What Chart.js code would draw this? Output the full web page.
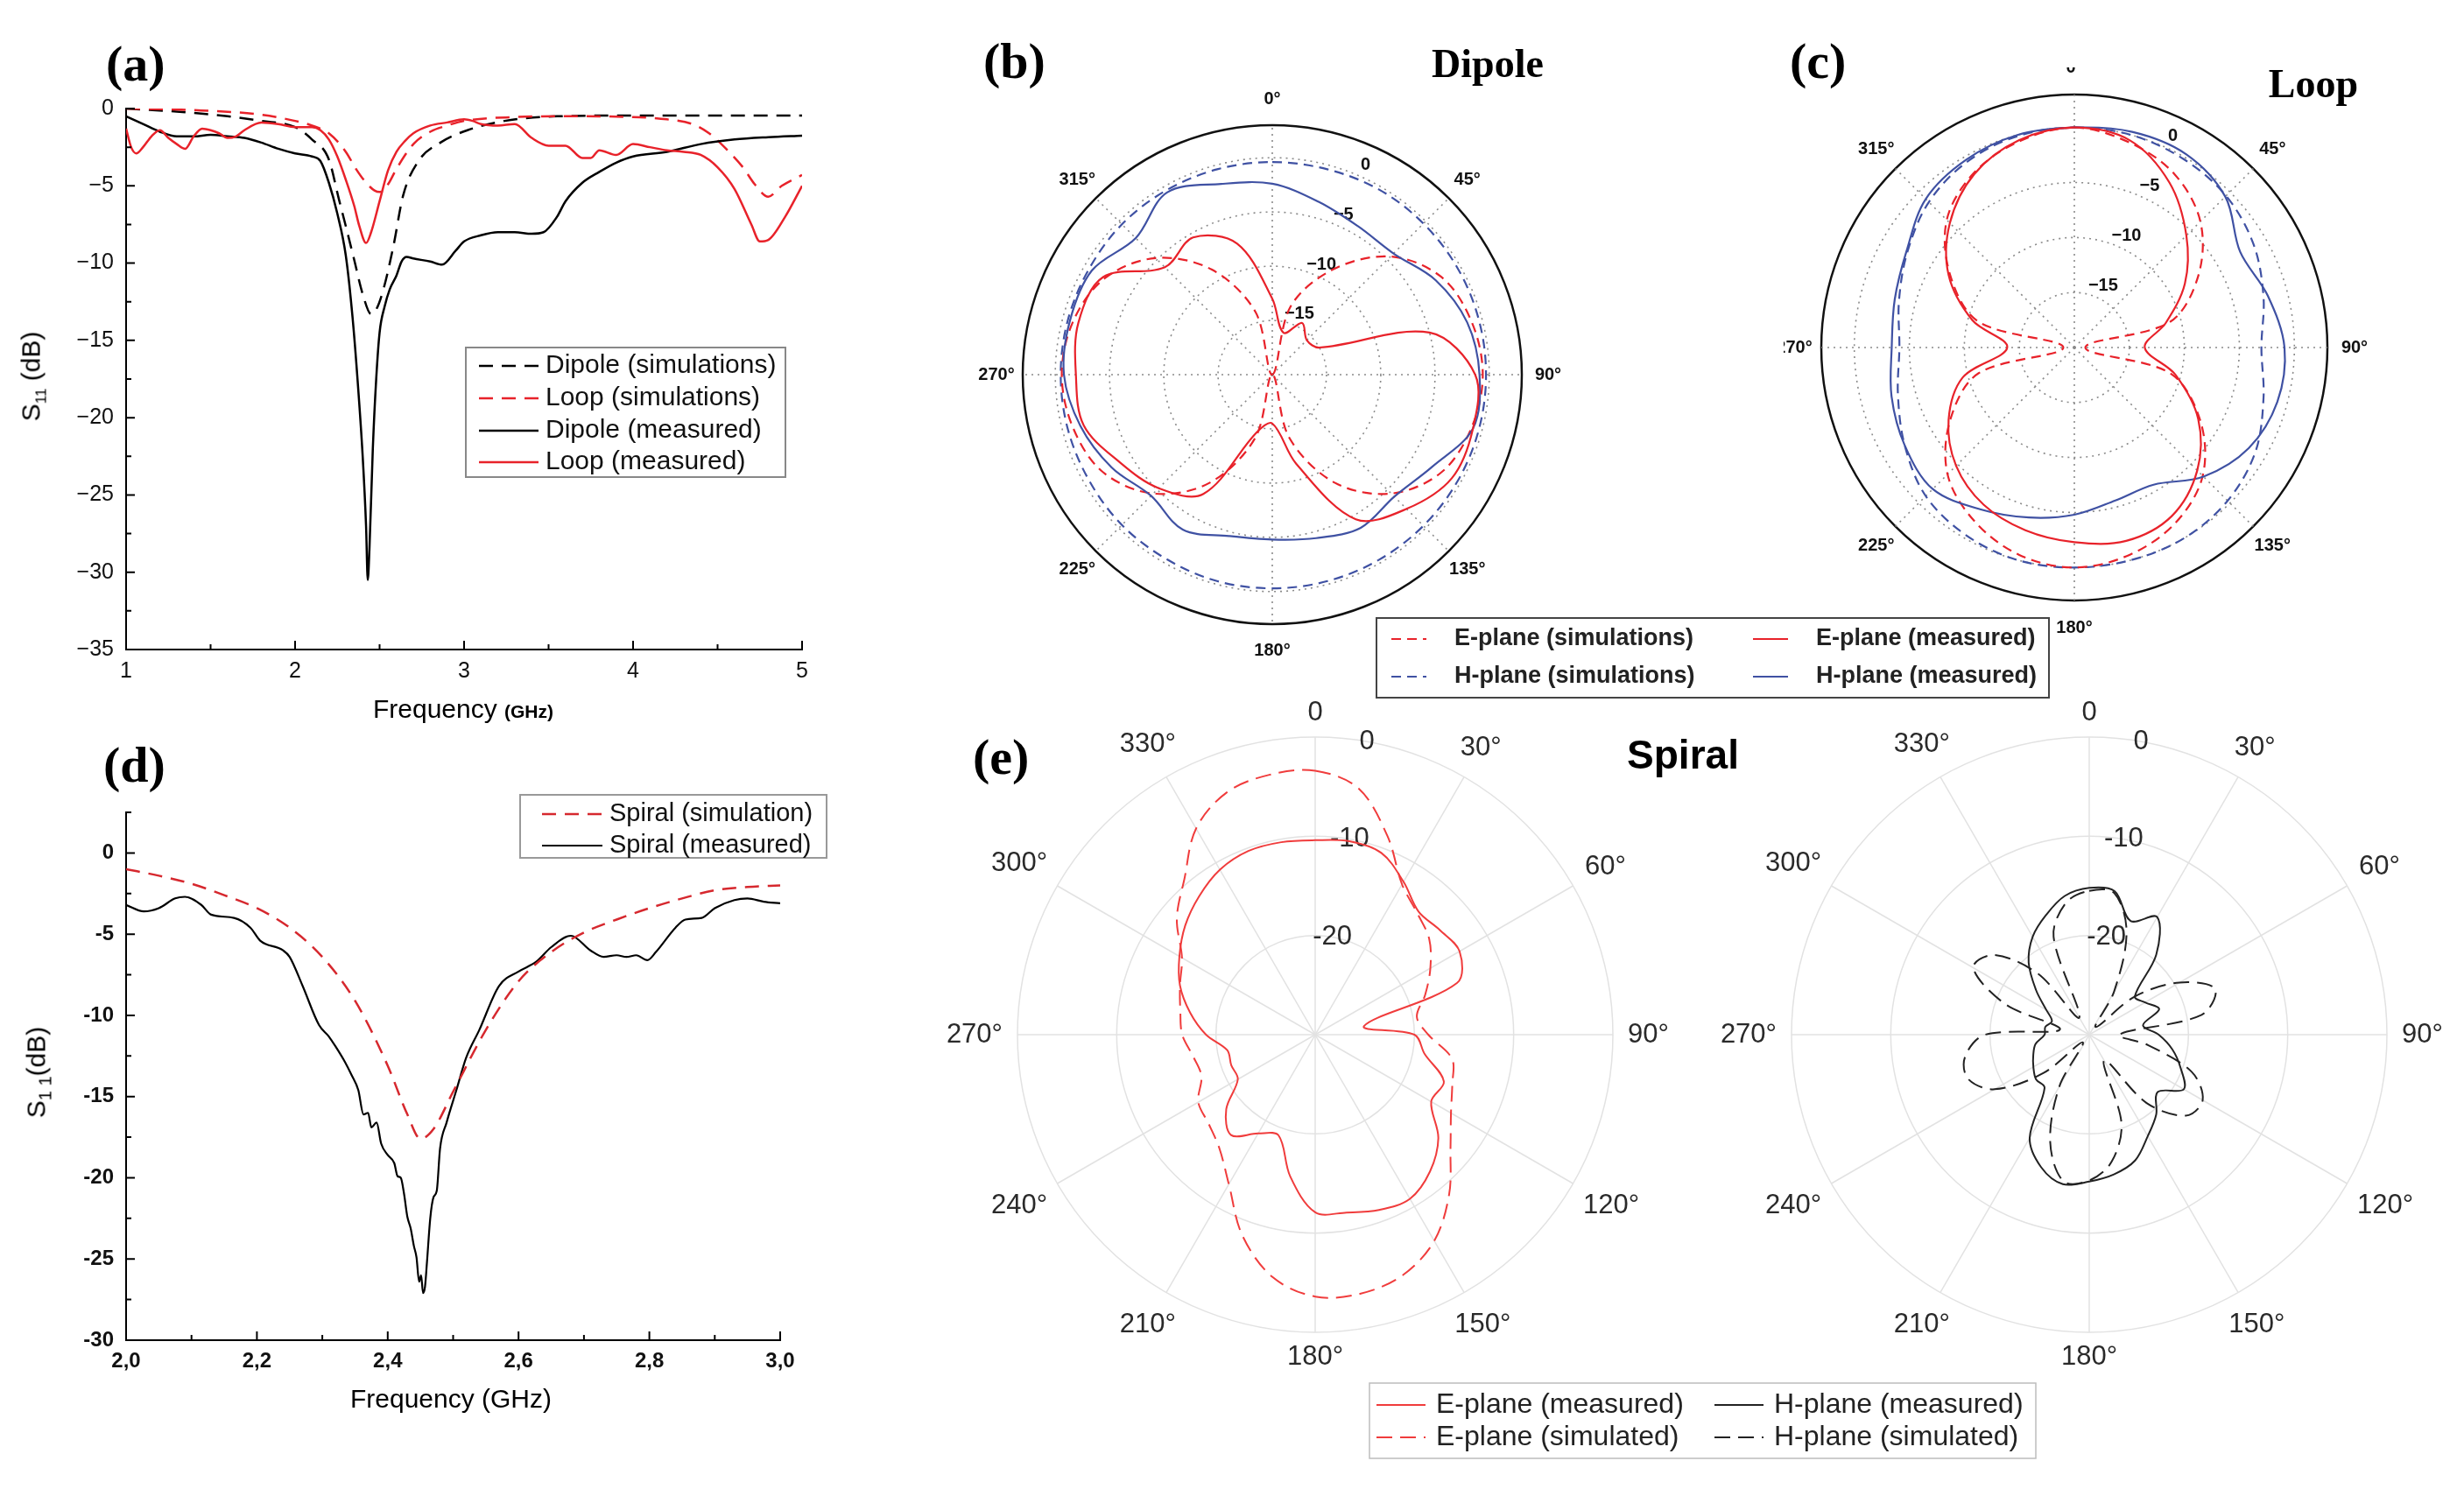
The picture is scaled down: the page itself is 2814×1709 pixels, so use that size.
<!DOCTYPE html>
<html>
<head>
<meta charset="utf-8">
<script src="https://cdn.jsdelivr.net/npm/chart.js@4.4.1/dist/chart.umd.min.js"></script>
<style>
  html, body { margin: 0; padding: 0; background: #fff; }
  #page { position: relative; width: 2814px; height: 1709px; overflow: hidden; background: #fff; }
  .box { position: absolute; }
  .t { position: absolute; line-height: 1; white-space: nowrap; color: #000; z-index: 10; }
  .serif { font-family: 'Liberation Serif', 'Times New Roman', serif; font-weight: bold; }
  .sans { font-family: 'Liberation Sans', Arial, sans-serif; }
</style>
</head>
<body>
<div id="page">
  <div class="box" style="left:0;top:0;width:960px;height:850px;z-index:1"><canvas id="chartA"></canvas></div>
  <div class="box" style="left:0;top:850px;width:960px;height:859px;z-index:1"><canvas id="chartD"></canvas></div>
  <div class="box" style="left:2037px;top:77px;width:777px;height:663px;z-index:2"><canvas id="chartC"></canvas></div>
  <div class="box" style="left:1100px;top:0;width:1260px;height:810px;z-index:3"><canvas id="chartB"></canvas></div>
  <div class="box" style="left:1960px;top:780px;width:854px;height:800px;z-index:2"><canvas id="chartE2"></canvas></div>
  <div class="box" style="left:1060px;top:780px;width:1300px;height:900px;z-index:3"><canvas id="chartE1"></canvas></div>

  <div class="t serif" style="left:121px;top:73px;font-size:58px;transform:translateY(-50%)">(a)</div>
  <div class="t serif" style="left:1123px;top:70px;font-size:58px;transform:translateY(-50%)">(b)</div>
  <div class="t serif" style="left:2044px;top:70px;font-size:58px;transform:translateY(-50%)">(c)</div>
  <div class="t serif" style="left:118px;top:874px;font-size:58px;transform:translateY(-50%)">(d)</div>
  <div class="t serif" style="left:1111px;top:865px;font-size:58px;transform:translateY(-50%)">(e)</div>
  <div class="t serif" style="left:1699px;top:73px;font-size:46px;transform:translate(-50%,-50%)">Dipole</div>
  <div class="t serif" style="left:2642px;top:96px;font-size:46px;transform:translate(-50%,-50%)">Loop</div>
  <div class="t sans" style="left:1922px;top:862px;font-size:46px;font-weight:bold;transform:translate(-50%,-50%)">Spiral</div>
  <div class="t sans" style="left:529px;top:810px;font-size:30px;transform:translate(-50%,-50%)">Frequency <span style="font-size:21px;font-weight:bold">(GHz)</span></div>
  <div class="t sans" style="left:38px;top:430px;font-size:30px;transform:translate(-50%,-50%) rotate(-90deg)">S<sub style="font-size:17px">11</sub> (dB)</div>
  <div class="t sans" style="left:515px;top:1598px;font-size:30px;transform:translate(-50%,-50%)">Frequency (GHz)</div>
  <div class="t sans" style="left:44px;top:1225px;font-size:30px;transform:translate(-50%,-50%) rotate(-90deg)">S<sub style="font-size:20px">1 1</sub>(dB)</div>
</div>

<script>
// ---------- (a) S11, dipole and loop ----------
const aDipoleSimF = [1.0, 1.3, 1.6, 1.8, 2.0, 2.1, 2.2, 2.26, 2.3, 2.35, 2.4, 2.45, 2.48, 2.52, 2.58, 2.64, 2.73, 2.86, 3.02, 3.24, 3.55, 4.0, 4.5, 5.0];
const aDipoleSim  = [0, -0.2, -0.5, -0.8, -1.2, -2.0, -3.3, -5.9, -7.6, -9.8, -12.0, -13.3, -13.0, -11.8, -9.0, -5.6, -3.4, -2.2, -1.4, -0.8, -0.5, -0.45, -0.45, -0.45];

const aLoopSimF = [1.0, 1.4, 1.8, 2.0, 2.1, 2.2, 2.3, 2.36, 2.42, 2.47, 2.5, 2.55, 2.6, 2.7, 2.8, 2.9, 3.0, 3.3, 3.6, 4.0, 4.2, 4.35, 4.45, 4.55, 4.65, 4.72, 4.8, 4.88, 5.0];
const aLoopSim  = [0, -0.1, -0.4, -0.8, -1.1, -1.6, -2.8, -3.9, -4.8, -5.3, -5.4, -4.9, -3.9, -2.3, -1.5, -1.1, -0.8, -0.55, -0.5, -0.55, -0.7, -1.0, -1.6, -2.6, -3.8, -4.9, -5.7, -5.0, -4.3];

const aDipoleMeasF = [1.0, 1.1, 1.2, 1.3, 1.4, 1.5, 1.6, 1.7, 1.8, 1.9, 2.0, 2.1, 2.15, 2.2, 2.25, 2.3, 2.34, 2.37, 2.4, 2.42, 2.43, 2.44, 2.46, 2.48, 2.5, 2.53, 2.56, 2.6, 2.63, 2.66, 2.7, 2.8, 2.87, 2.95, 3.0, 3.1, 3.2, 3.3, 3.4, 3.47, 3.55, 3.6, 3.7, 3.8, 3.9, 4.0, 4.2, 4.4, 4.6, 4.8, 5.0];
const aDipoleMeas  = [-0.5, -1.0, -1.5, -1.8, -1.8, -1.7, -1.8, -1.9, -2.2, -2.6, -2.9, -3.1, -3.4, -4.8, -6.8, -9.5, -13.5, -17.6, -22.5, -27, -30.5, -28.5, -22, -17.5, -14.5, -12.8, -11.7, -10.8, -9.9, -9.6, -9.7, -9.9, -10.1, -9.2, -8.6, -8.2, -8.0, -8.0, -8.1, -8.0, -7.0, -6.0, -4.8, -4.1, -3.5, -3.1, -2.8, -2.3, -2.0, -1.85, -1.75];

const aLoopMeasF = [1.0, 1.03, 1.06, 1.1, 1.15, 1.2, 1.25, 1.3, 1.35, 1.4, 1.45, 1.5, 1.55, 1.6, 1.65, 1.7, 1.8, 1.9, 2.0, 2.1, 2.15, 2.2, 2.25, 2.3, 2.35, 2.38, 2.42, 2.45, 2.5, 2.55, 2.6, 2.65, 2.7, 2.8, 2.9, 3.0, 3.05, 3.1, 3.2, 3.3, 3.4, 3.5, 3.6, 3.7, 3.75, 3.8, 3.9, 4.0, 4.1, 4.2, 4.3, 4.4, 4.5, 4.6, 4.7, 4.75, 4.8, 4.9, 5.0];
const aLoopMeas  = [-1.3, -2.5, -2.9, -2.5, -1.8, -1.4, -1.9, -2.3, -2.6, -1.8, -1.3, -1.4, -1.6, -1.9, -1.8, -1.4, -0.9, -1.0, -1.2, -1.2, -1.4, -2.0, -3.1, -4.6, -6.3, -7.6, -8.7, -8.0, -6.0, -4.0, -2.8, -2.1, -1.6, -1.1, -0.9, -0.7, -0.8, -1.0, -1.1, -1.0, -1.9, -2.4, -2.4, -3.2, -3.2, -2.7, -3.0, -2.3, -2.5, -2.7, -2.8, -3.0, -3.8, -5.2, -7.5, -8.6, -8.5, -7.0, -5.0];

const aXMajor = [1, 2, 3, 4, 5];
const aXMinor = [1.5, 2.5, 3.5, 4.5];
const aYMajor = [-35, -30, -25, -20, -15, -10, -5, 0];
const aYMinor = [-32.5, -27.5, -22.5, -17.5, -12.5, -7.5, -2.5];

// ---------- (d) S11, spiral ----------
const dSimF = [2.0, 2.05, 2.1, 2.15, 2.2, 2.25, 2.3, 2.35, 2.4, 2.43, 2.45, 2.47, 2.5, 2.55, 2.6, 2.65, 2.7, 2.75, 2.8, 2.85, 2.9, 2.95, 3.0];
const dSim  = [-1.0, -1.4, -1.9, -2.6, -3.4, -4.6, -6.4, -9.1, -13.1, -16.1, -17.6, -17.0, -14.7, -10.9, -7.9, -6.1, -4.9, -4.1, -3.4, -2.8, -2.3, -2.1, -2.0];

const dMeasF = [2.0, 2.027, 2.05, 2.075, 2.09, 2.115, 2.13, 2.165, 2.19, 2.205, 2.24, 2.25, 2.27, 2.295, 2.31, 2.32, 2.335, 2.345, 2.355, 2.363, 2.37, 2.375, 2.383, 2.39, 2.4, 2.41, 2.415, 2.42, 2.425, 2.43, 2.435, 2.44, 2.444, 2.448, 2.451, 2.454, 2.457, 2.46, 2.465, 2.47, 2.475, 2.48, 2.49, 2.505, 2.52, 2.54, 2.57, 2.6, 2.627, 2.65, 2.68, 2.71, 2.73, 2.75, 2.765, 2.78, 2.797, 2.81, 2.84, 2.855, 2.88, 2.9, 2.93, 2.95, 2.975, 3.0];
const dMeas  = [-3.2, -3.6, -3.4, -2.8, -2.7, -3.2, -3.8, -4.0, -4.6, -5.4, -6.0, -6.4, -8.2, -10.6, -11.3, -11.9, -12.9, -13.7, -14.6, -16.1, -16.0, -16.9, -16.6, -17.9, -18.6, -19.1, -19.9, -20.0, -21.0, -22.4, -23.1, -24.2, -24.9, -26.4, -26.0, -27.1, -26.7, -25.2, -22.5, -21.2, -20.8, -18.2, -16.6, -14.6, -12.6, -10.9, -8.2, -7.3, -6.7, -5.8, -5.1, -6.0, -6.4, -6.3, -6.4, -6.3, -6.6, -6.1, -4.6, -4.1, -4.0, -3.4, -2.9, -2.8, -3.0, -3.1];

const dXMajor = [2.0, 2.2, 2.4, 2.6, 2.8, 3.0];
const dXMinor = [2.1, 2.3, 2.5, 2.7, 2.9];
const dYMajor = [-30, -25, -20, -15, -10, -5, 0];
const dYMinor = [-27.5, -22.5, -17.5, -12.5, -7.5, -2.5, 2.5];

// ---------- (b) dipole and (c) loop patterns, 15 deg steps ----------
const bcAngles = [0, 15, 30, 45, 60, 75, 90, 105, 120, 135, 150, 165, 180, 195, 210, 225, 240, 255, 270, 285, 300, 315, 330, 345];
const bEsim  = [-20, -13.5, -8.8, -4.6, -2.0, -1.0, -0.6, -1.0, -2.0, -4.5, -8.5, -14, -20, -14, -8.5, -4.5, -2.0, -1.0, -0.6, -1.0, -2.2, -4.8, -8.8, -14];
const bEmeas = [-13, -16, -14.5, -15.5, -15, -5.0, -1.3, -0.85, -0.9, -2.5, -4.6, -11.5, -15.5, -14.5, -7.3, -5.2, -3.8, -2.0, -1.9, -1.5, -2.0, -6.0, -5.4, -7.5];
const bHsim  = [-0.4, -0.4, -0.3, -0.3, -0.3, -0.3, -0.3, -0.3, -0.3, -0.3, -0.3, -0.3, -0.3, -0.3, -0.4, -0.4, -0.5, -0.5, -0.5, -0.5, -0.5, -0.4, -0.4, -0.4];
const bHmeas = [-2.4, -3.5, -4.2, -4.2, -2.6, -1.4, -0.9, -0.85, -3.0, -4.1, -3.7, -4.4, -4.8, -4.6, -3.5, -4.2, -2.9, -1.7, -0.8, -0.7, -0.8, -2.2, -0.6, -1.8];

const cEsim  = [0, -0.7, -1.8, -3.8, -7.0, -11, -19, -11, -6.8, -3.5, -1.6, -0.5, 0, -0.5, -1.8, -3.7, -7.0, -11, -19, -11, -7.0, -3.6, -1.7, -0.6];
const cEmeas = [0, -0.5, -2.7, -5.6, -8.4, -11.4, -13.6, -10.5, -7.0, -4.2, -2.3, -1.8, -2.3, -2.8, -3.5, -4.8, -6.8, -9.5, -13.9, -10.4, -6.8, -4.0, -1.8, -0.5];
const cHsim  = [0, 0, -0.2, -0.5, -1.2, -2.2, -3.0, -2.2, -1.0, -0.3, 0, 0, 0, 0, -0.3, -0.9, -2.2, -3.4, -4.1, -3.5, -2.5, -1.3, -0.5, -0.1];
const cHmeas = [0.0, 0.3, 0.3, -0.6, -2.6, -1.8, -0.9, -0.9, -1.7, -3.4, -5.6, -5.6, -4.8, -4.0, -3.0, -1.8, -2.2, -2.8, -3.4, -3.1, -2.4, -0.9, -0.3, 0.0];

const bcRings = [-20, -15, -10, -5, 0, 3];
const bcRingLabelVals = [0, -5, -10, -15];
const bcRingLabels = ['0', '\u22125', '\u221210', '\u221215'];
const bcAngleDeg = [0, 45, 90, 135, 180, 225, 270, 315];
const bcAngleText = ['0°', '45°', '90°', '135°', '180°', '225°', '270°', '315°'];

// ---------- (e) spiral patterns, 10 deg steps ----------
const eAngles = [0, 10, 20, 30, 40, 50, 60, 70, 80, 90, 100, 110, 120, 130, 140, 150, 160, 170, 180, 190, 200, 210, 220, 230, 240, 250, 260, 270, 280, 290, 300, 310, 320, 330, 340, 350];
const eEsim  = [-3.4, -4.8, -8.7, -12.5, -14.0, -15.0, -16.6, -18.2, -19.6, -18.6, -16.0, -15.3, -14.2, -12.2, -9.0, -6.0, -4.2, -3.5, -3.6, -5.2, -8.5, -12.6, -15.0, -16.0, -16.4, -17.8, -17.5, -16.6, -16.2, -15.5, -14.5, -11.8, -9.5, -6.0, -4.0, -3.4];
const eEmeas = [-10.4, -10.2, -10.5, -12.2, -13.8, -13.6, -13.2, -14.8, -25, -20.0, -18.8, -16.2, -16.5, -13.8, -12.0, -10.9, -11.2, -11.8, -12.1, -15.5, -19.2, -18.5, -16.8, -18.3, -21.0, -21.0, -21.0, -19.0, -17.2, -15.5, -14.2, -12.9, -11.8, -10.8, -10.3, -10.3];
const eHmeas = [-15.2, -15.3, -17.8, -16.3, -19.5, -24, -23.5, -22.5, -24.5, -23, -21.5, -20.2, -19.0, -21.0, -19.5, -18.2, -16.5, -15.7, -15.2, -14.7, -15.8, -18.0, -23.0, -23.0, -23.5, -24.0, -24.5, -25.5, -25.5, -26, -25, -23, -20.5, -18.6, -17.2, -15.8];
const eHsim  = [-15.5, -15.5, -19, -25, -29, -24, -19.5, -16.5, -18.5, -27, -24, -19, -16.8, -17.3, -21, -27, -20.5, -17, -15.3, -15, -18.5, -24, -29, -24, -19, -17, -17.3, -19.5, -27, -21, -16.5, -17.5, -22, -28, -19.5, -16.5];

const eRings = [-30, -20, -10, 0];
const eRingLabelVals = [0, -10, -20];
const eRingLabels = ['0', '-10', '-20'];
const eAngleDeg = [0, 30, 60, 90, 120, 150, 180, 210, 240, 270, 300, 330];
const eAngleText = ['0', '30°', '60°', '90°', '120°', '150°', '180°', '210°', '240°', '270°', '300°', '330°'];

// ---------- styles ----------
const RED = '#e8222a', BLUE = '#3f51a3', ERED = '#f03c3c';
const sty = {
  aDipSim:  { label: 'Dipole (simulations)', borderColor: '#000', borderWidth: 2.5, borderDash: [16, 10] },
  aLoopSim: { label: 'Loop (simulations)',   borderColor: RED,    borderWidth: 2.5, borderDash: [16, 10] },
  aDipMeas: { label: 'Dipole (measured)',    borderColor: '#000', borderWidth: 2.5, borderDash: [] },
  aLoopMeas:{ label: 'Loop (measured)',      borderColor: RED,    borderWidth: 2.5, borderDash: [] },
  dSim:     { label: 'Spiral (simulation)',  borderColor: '#d6282e', borderWidth: 2.5, borderDash: [16, 10] },
  dMeas:    { label: 'Spiral (measured)',    borderColor: '#000', borderWidth: 2.2, borderDash: [] },
  pEsim:    { label: 'E-plane (simulations)', borderColor: RED,  borderWidth: 2.2, borderDash: [11, 7] },
  pHsim:    { label: 'H-plane (simulations)', borderColor: BLUE, borderWidth: 2.2, borderDash: [11, 7] },
  pEmeas:   { label: 'E-plane (measured)',    borderColor: RED,  borderWidth: 2.2, borderDash: [] },
  pHmeas:   { label: 'H-plane (measured)',    borderColor: BLUE, borderWidth: 2.2, borderDash: [] },
  eEmeas:   { label: 'E-plane (measured)',  borderColor: ERED,   borderWidth: 2, borderDash: [] },
  eEsim:    { label: 'E-plane (simulated)', borderColor: ERED,   borderWidth: 2, borderDash: [18, 9] },
  eHmeas:   { label: 'H-plane (measured)',  borderColor: '#222', borderWidth: 2, borderDash: [] },
  eHsim:    { label: 'H-plane (simulated)', borderColor: '#222', borderWidth: 2, borderDash: [18, 9] }
};

Chart.defaults.font.family = "'Liberation Sans', Arial, sans-serif";
Chart.defaults.color = '#111';

const pts = (xs, ys) => xs.map((x, i) => ({ x, y: ys[i] }));
const lineDs = (s, xs, ys) => ({ ...s, data: pts(xs, ys), showLine: true, pointRadius: 0, fill: false, cubicInterpolationMode: 'monotone' });
const polarDs = (s, vals) => ({ ...s, data: vals, pointRadius: 0, fill: false, tension: 0.34, backgroundColor: 'transparent' });

// inward tick marks on the two axes
const inTicks = {
  id: 'inTicks',
  afterDraw(chart, args, o) {
    if (!o || !o.xMajor) return;
    const { ctx, chartArea: ca, scales } = chart;
    ctx.save();
    ctx.strokeStyle = '#000';
    ctx.lineWidth = 2;
    ctx.beginPath();
    const xt = (vals, len) => vals.forEach(v => { const p = scales.x.getPixelForValue(v); ctx.moveTo(p, ca.bottom); ctx.lineTo(p, ca.bottom - len); });
    const yt = (vals, len) => vals.forEach(v => { const p = scales.y.getPixelForValue(v); ctx.moveTo(ca.left, p); ctx.lineTo(ca.left + len, p); });
    xt(o.xMajor, o.major); xt(o.xMinor, o.minor);
    yt(o.yMajor, o.major); yt(o.yMinor, o.minor);
    ctx.stroke();
    ctx.restore();
  }
};

// framed legend drawn from the series styles
const boxLegend = {
  id: 'boxLegend',
  afterDraw(chart, args, o) {
    if (!o || !o.items) return;
    const ctx = chart.ctx;
    ctx.save();
    ctx.fillStyle = '#fff';
    ctx.fillRect(o.x, o.y, o.w, o.h);
    ctx.strokeStyle = o.border;
    ctx.lineWidth = o.borderWidth;
    ctx.strokeRect(o.x, o.y, o.w, o.h);
    ctx.font = o.font;
    ctx.textBaseline = 'middle';
    o.items.forEach(it => {
      ctx.save();
      ctx.strokeStyle = it.s.borderColor;
      ctx.lineWidth = it.s.borderWidth;
      ctx.setLineDash(it.s.borderDash);
      ctx.beginPath();
      ctx.moveTo(it.x, it.y);
      ctx.lineTo(it.x + o.sampleW, it.y);
      ctx.stroke();
      ctx.restore();
      ctx.fillStyle = o.color;
      ctx.fillText(it.s.label, it.x + o.sampleW + o.gap, it.y);
    });
    ctx.restore();
  }
};

// angle labels round the rim and level labels along one spoke
const polarText = {
  id: 'polarText',
  beforeDatasetsDraw(chart, args, o) {
    if (!o || !o.angleDeg) return;
    const s = chart.scales.r, ctx = chart.ctx;
    ctx.save();
    ctx.textAlign = 'center';
    ctx.textBaseline = 'middle';
    ctx.fillStyle = o.color;
    ctx.font = o.angleFont;
    o.angleDeg.forEach((deg, i) => {
      const t = o.angleText[i];
      const a = deg * Math.PI / 180;
      let r = o.angleR;
      if (o.fit) r += Math.abs(Math.sin(a)) * ctx.measureText(t).width / 2 + Math.abs(Math.cos(a)) * o.fit / 2;
      ctx.fillText(t, s.xCenter + Math.sin(a) * r, s.yCenter - Math.cos(a) * r);
    });
    ctx.font = o.ringFont;
    const a = o.ringDeg * Math.PI / 180;
    o.ringValues.forEach((v, i) => {
      const d = s.getDistanceFromCenterForValue(v) + o.ringShift;
      ctx.fillText(o.ringText[i], s.xCenter + Math.sin(a) * d, s.yCenter - Math.cos(a) * d);
    });
    ctx.restore();
  }
};

function lineOptions(p) {
  return {
    responsive: true, maintainAspectRatio: false, animation: false,
    layout: { padding: p.pad },
    plugins: { legend: { display: false }, tooltip: { enabled: false }, inTicks: p.ticks, boxLegend: p.legend },
    scales: {
      x: {
        type: 'linear', min: p.xMin, max: p.xMax,
        afterBuildTicks: s => { s.ticks = p.xMajor.map(v => ({ value: v })); },
        afterFit: s => { s.height = p.xH; },
        grid: { display: false, drawTicks: false },
        border: { color: '#000', width: 2 },
        ticks: { padding: 10, font: p.tickFont, color: '#111', callback: p.xFmt }
      },
      y: {
        min: p.yMin, max: p.yMax,
        afterBuildTicks: s => { s.ticks = p.yMajor.map(v => ({ value: v })); },
        afterFit: s => { s.width = 144; },
        grid: { display: false, drawTicks: false },
        border: { color: '#000', width: 2 },
        ticks: { padding: 14, font: p.tickFont, color: '#111', callback: p.yFmt }
      }
    }
  };
}

function polarOptions(p) {
  return {
    responsive: true, maintainAspectRatio: false, animation: false,
    layout: { padding: p.pad },
    plugins: { legend: { display: false }, tooltip: { enabled: false }, polarText: p.text, boxLegend: p.legend || {} },
    scales: {
      r: {
        min: p.min, max: p.max,
        afterBuildTicks: s => { s.ticks = p.rings.map(v => ({ value: v })); },
        ticks: { display: false },
        pointLabels: { display: false },
        grid: { circular: true, color: c => p.ringColor(c.tick.value), lineWidth: c => p.ringWidth(c.tick.value) },
        border: { dash: c => p.ringDash(c.tick.value) },
        angleLines: { color: p.spokeColor, lineWidth: c => (c.index % p.spokeEvery === 0 ? p.spokeWidth : 0), borderDash: p.spokeDash }
      }
    }
  };
}

const minus = v => (v < 0 ? '\u2212' + Math.abs(v) : String(v));

// (a)
new Chart(document.getElementById('chartA'), {
  type: 'scatter',
  data: { datasets: [
    lineDs(sty.aLoopMeas, aLoopMeasF, aLoopMeas),
    lineDs(sty.aDipMeas, aDipoleMeasF, aDipoleMeas),
    lineDs(sty.aLoopSim, aLoopSimF, aLoopSim),
    lineDs(sty.aDipSim, aDipoleSimF, aDipoleSim)
  ] },
  options: lineOptions({
    pad: { left: 0, top: 124, right: 44, bottom: 0 }, xH: 108,
    xMin: 1, xMax: 5, yMin: -35, yMax: 0, xMajor: aXMajor, yMajor: aYMajor,
    tickFont: { size: 25 }, xFmt: v => String(v), yFmt: minus,
    ticks: { xMajor: aXMajor, xMinor: aXMinor, yMajor: aYMajor, yMinor: aYMinor, major: 10, minor: 6 },
    legend: {
      x: 532, y: 397, w: 365, h: 148, border: '#888', borderWidth: 2,
      font: "30px 'Liberation Sans', Arial, sans-serif", color: '#111', sampleW: 68, gap: 8,
      items: [
        { s: sty.aDipSim, x: 547, y: 418 }, { s: sty.aLoopSim, x: 547, y: 455 },
        { s: sty.aDipMeas, x: 547, y: 492 }, { s: sty.aLoopMeas, x: 547, y: 528 }
      ]
    }
  }),
  plugins: [inTicks, boxLegend]
});

// (d)
new Chart(document.getElementById('chartD'), {
  type: 'scatter',
  data: { datasets: [
    lineDs(sty.dSim, dSimF, dSim),
    lineDs(sty.dMeas, dMeasF, dMeas)
  ] },
  options: lineOptions({
    pad: { left: 0, top: 78, right: 69, bottom: 0 }, xH: 178,
    xMin: 2, xMax: 3, yMin: -30, yMax: 2.5, xMajor: dXMajor, yMajor: dYMajor,
    tickFont: { size: 24, weight: 'bold' }, xFmt: v => v.toFixed(1).replace('.', ','), yFmt: v => String(v),
    ticks: { xMajor: dXMajor, xMinor: dXMinor, yMajor: dYMajor, yMinor: dYMinor, major: 10, minor: 6 },
    legend: {
      x: 594, y: 58, w: 350, h: 72, border: '#999', borderWidth: 2,
      font: "29px 'Liberation Sans', Arial, sans-serif", color: '#111', sampleW: 69, gap: 8,
      items: [ { s: sty.dSim, x: 619, y: 80 }, { s: sty.dMeas, x: 619, y: 116 } ]
    }
  }),
  plugins: [inTicks, boxLegend]
});

const bcGrid = {
  min: -20, max: 3, rings: bcRings,
  ringColor: v => (v === 3 ? '#111' : '#8a8a8a'),
  ringWidth: v => (v === 3 ? 2.5 : 1.6),
  ringDash: v => (v === 3 ? [] : [2, 5]),
  spokeColor: '#8a8a8a', spokeEvery: 3, spokeWidth: 1.6, spokeDash: [2, 5]
};
const bcText = r => ({
  angleDeg: bcAngleDeg, angleText: bcAngleText, angleR: r, color: '#111',
  angleFont: "bold 20px 'Liberation Sans', Arial, sans-serif",
  ringValues: bcRingLabelVals, ringText: bcRingLabels, ringDeg: 24, ringShift: 14,
  ringFont: "bold 20px 'Liberation Sans', Arial, sans-serif"
});

// (b)
new Chart(document.getElementById('chartB'), {
  type: 'radar',
  data: { labels: bcAngles, datasets: [
    polarDs(sty.pEmeas, bEmeas), polarDs(sty.pHmeas, bHmeas),
    polarDs(sty.pEsim, bEsim), polarDs(sty.pHsim, bHsim)
  ] },
  options: polarOptions({
    ...bcGrid,
    pad: { left: 68, top: 143, right: 622, bottom: 97 },
    text: bcText(315),
    legend: {
      x: 472, y: 706, w: 768, h: 91, border: '#444', borderWidth: 2,
      font: "bold 27px 'Liberation Sans', Arial, sans-serif", color: '#222', sampleW: 40, gap: 32,
      items: [
        { s: sty.pEsim, x: 489, y: 730 }, { s: sty.pHsim, x: 489, y: 773 },
        { s: sty.pEmeas, x: 902, y: 730 }, { s: sty.pHmeas, x: 902, y: 773 }
      ]
    }
  }),
  plugins: [polarText, boxLegend]
});

// (c)
new Chart(document.getElementById('chartC'), {
  type: 'radar',
  data: { labels: bcAngles, datasets: [
    polarDs(sty.pEmeas, cEmeas), polarDs(sty.pHmeas, cHmeas),
    polarDs(sty.pEsim, cEsim), polarDs(sty.pHsim, cHsim)
  ] },
  options: polarOptions({
    ...bcGrid,
    pad: { left: 43, top: 31, right: 156, bottom: 54 },
    text: { ...bcText(320), ringDeg: 25, ringShift: 15 }
  }),
  plugins: [polarText]
});

const eGrid = {
  min: -30, max: 0, rings: eRings,
  ringColor: () => '#e2e2e2', ringWidth: () => 1.5, ringDash: () => [],
  spokeColor: '#e2e2e2', spokeEvery: 3, spokeWidth: 1.5, spokeDash: []
};
const eText = {
  angleDeg: eAngleDeg, angleText: eAngleText, angleR: 357, fit: 22, color: '#2a2a2a',
  angleFont: "31px 'Liberation Sans', Arial, sans-serif",
  ringValues: eRingLabelVals, ringText: eRingLabels, ringDeg: 10, ringShift: 0,
  ringFont: "31px 'Liberation Sans', Arial, sans-serif"
};

// (e) left, E-plane
new Chart(document.getElementById('chartE1'), {
  type: 'radar',
  data: { labels: eAngles, datasets: [ polarDs(sty.eEmeas, eEmeas), polarDs(sty.eEsim, eEsim) ] },
  options: polarOptions({
    ...eGrid,
    pad: { left: 102, top: 62, right: 518, bottom: 158 },
    text: eText,
    legend: {
      x: 504, y: 800, w: 761, h: 86, border: '#bdbdbd', borderWidth: 1.5,
      font: "32px 'Liberation Sans', Arial, sans-serif", color: '#222', sampleW: 56, gap: 12,
      items: [
        { s: sty.eEmeas, x: 512, y: 825 }, { s: sty.eEsim, x: 512, y: 862 },
        { s: sty.eHmeas, x: 898, y: 825 }, { s: sty.eHsim, x: 898, y: 862 }
      ]
    }
  }),
  plugins: [polarText, boxLegend]
});

// (e) right, H-plane
new Chart(document.getElementById('chartE2'), {
  type: 'radar',
  data: { labels: eAngles, datasets: [ polarDs(sty.eHmeas, eHmeas), polarDs(sty.eHsim, eHsim) ] },
  options: polarOptions({
    ...eGrid,
    pad: { left: 86, top: 62, right: 88, bottom: 58 },
    text: eText
  }),
  plugins: [polarText]
});
</script>
</body>
</html>
